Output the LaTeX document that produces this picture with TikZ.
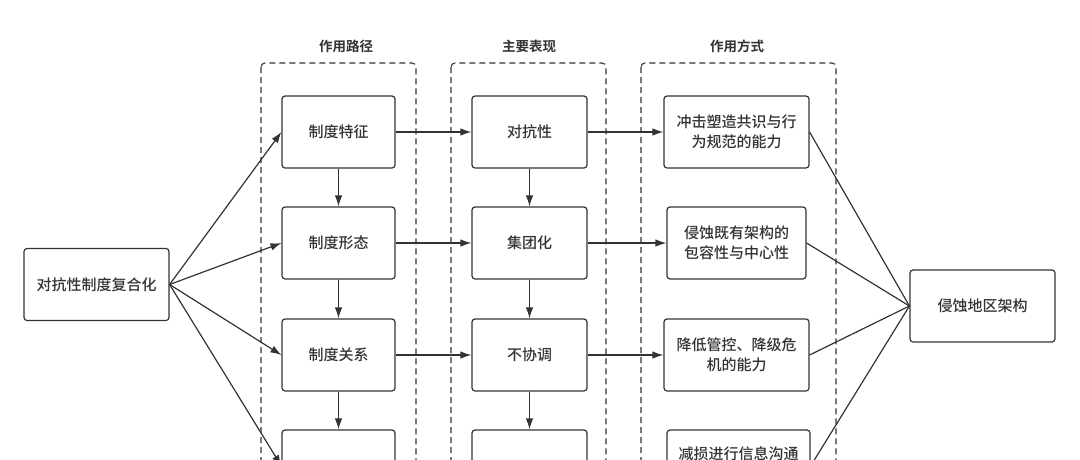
\documentclass[tikz,border=0pt]{standalone}
\usepackage{fontspec}
\setmainfont{Noto Sans CJK SC}[BoldFont={Noto Sans CJK SC Bold}]
\newfontfamily\midfont{Noto Sans CJK SC Medium}
\usetikzlibrary{arrows.meta}
\definecolor{ink}{HTML}{333333}
\tikzset{
  box/.style={draw=ink,line width=1.2pt,rounded corners=3pt,inner sep=0pt,
    minimum height=72pt,align=center,text=ink,font=\midfont\fontsize{15}{20}\selectfont},
  group/.style={draw=ink,line width=1.1pt,dash pattern=on 6pt off 4pt,rounded corners=4pt},
  title/.style={text=ink,font=\fontsize{13.5}{16}\selectfont\bfseries},
  link/.style={draw=ink,line width=1.2pt,-{Latex[length=11pt,width=7.5pt]}},
  tieline/.style={draw=ink,line width=1.2pt}
}
\begin{document}
\begin{tikzpicture}[x=1pt,y=-1pt]
  \useasboundingbox (0,0) rectangle (1080,459);
  \clip (0,0) rectangle (1080,459);
  % groups
  \draw [group](261,63) rectangle (416,520);
  \draw [group](451,63) rectangle (606,520);
  \draw [group](641,63) rectangle (836,520);
  \node [title] at(346,46)(t1){作用路径};
  \node [title] at(529,46)(t2){主要表现};
  \node [title] at(737,46)(t3){作用方式};
  % source and target
  \node [box,minimum width=145pt] at(96.5,284.5)(src){对抗性制度复合化};
  \node [box,minimum width=145pt] at(982.5,306)(dst){侵蚀地区架构};
  % path
  \node [box,minimum width=113pt] at(338.5,132)(p1){制度特征};
  \node [box,minimum width=113pt] at(338.5,243)(p2){制度形态};
  \node [box,minimum width=113pt] at(338.5,355)(p3){制度关系};
  \node [box,minimum width=113pt] at(338.5,466)(p4){};
  % forms
  \node [box,minimum width=115pt] at(529.5,132)(f1){对抗性};
  \node [box,minimum width=115pt] at(529.5,243)(f2){集团化};
  \node [box,minimum width=115pt] at(529.5,355)(f3){不协调};
  \node [box,minimum width=115pt] at(529.5,466)(f4){};
  % ways
  \node [box,minimum width=145pt] at(736.5,132)(w1){冲击塑造共识与行\\为规范的能力};
  \node [box,minimum width=139pt] at(736.5,243)(w2){侵蚀既有架构的\\包容性与中心性};
  \node [box,minimum width=145pt] at(736.5,355)(w3){降低管控、降级危\\机的能力};
  \node [box,minimum width=143pt] at(738.5,466)(w4){减损进行信息沟通\\ \strut};
  % source to path
  \foreach \i in {1,...,4}
    \draw [link](src.east) -- (p\i.west);
  % down the columns
  \foreach \i/\j in {1/2,2/3,3/4}{
    \draw [link](p\i.south) -- (p\j.north);
    \draw [link](f\i.south) -- (f\j.north);
  }
  % across
  \foreach \i in {1,...,4}{
    \draw [link](p\i.east) -- (f\i.west);
    \draw [link](f\i.east) -- (w\i.west);
    \draw [tieline](w\i.east) -- (dst.west);
  }
\end{tikzpicture}
\end{document}
